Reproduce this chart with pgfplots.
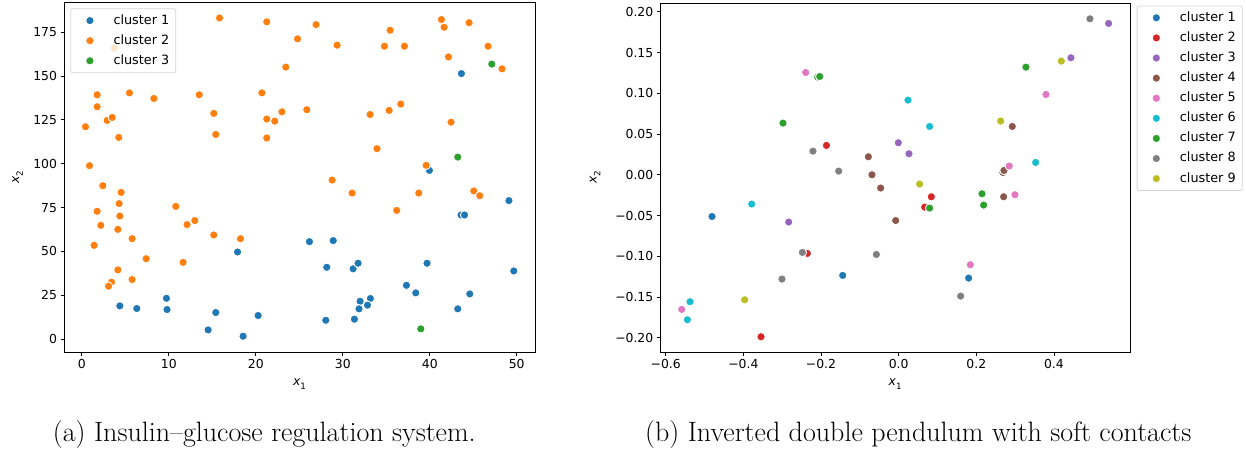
\documentclass[border=0pt]{standalone}
\usepackage{fontspec}
\usepackage{pgfplots}
\pgfplotsset{compat=1.18}
\newfontfamily\dejavu{DejaVu Sans}
\definecolor{tabblue}{HTML}{1F77B4}
\definecolor{taborange}{HTML}{FF7F0E}
\definecolor{tabgreen}{HTML}{2CA02C}
\definecolor{tabred}{HTML}{D62728}
\definecolor{tabpurple}{HTML}{9467BD}
\definecolor{tabbrown}{HTML}{8C564B}
\definecolor{tabpink}{HTML}{E377C2}
\definecolor{tabgray}{HTML}{7F7F7F}
\definecolor{tabolive}{HTML}{BCBD22}
\definecolor{tabcyan}{HTML}{17BECF}
\pgfplotsset{
  base/.style={
    scale only axis,
    axis line style={black, line width=0.8pt},
    tick style={black, line width=0.8pt},
    major tick length=3.5pt,
    tick align=outside,
    xtick pos=left, ytick pos=left,
    ticklabel style={font=\dejavu\fontsize{12.4}{14}\selectfont, text=black},
    /pgf/number format/assume math mode=true,
    legend cell align=left,
    legend style={
      draw=black!20, line width=0.8pt, rounded corners=2pt,
      fill=white, fill opacity=0.8, draw opacity=0.8, text opacity=1,
      font=\dejavu\fontsize{12.8}{15}\selectfont,
      inner xsep=6.5pt, inner ysep=6pt, row sep=8.3pt,
      nodes={inner sep=0pt, text height=9.3pt, text depth=2.5pt},
    },
  },
  cl/.style={only marks, mark=*, mark size=4.2pt,
    mark options={draw=white, line width=0.9pt, fill=#1},
    legend image code/.code={\path[draw=none,fill=none] (0pt,0pt) -- (36.3pt,0pt);
      \draw[##1, fill opacity=1, draw opacity=1, mark options={draw=white, line width=0.9pt, fill=#1, fill opacity=1, draw opacity=1}] plot coordinates {(12.7pt,0pt)};}},
}
\newcommand{\xlab}[1]{{\dejavu\fontsize{12.4}{14}\selectfont\textit{x}\raisebox{-0.3em}{\fontsize{8.7}{10}\selectfont #1}}}
\begin{document}
\begin{tikzpicture}[x=1pt,y=1pt]
\path[use as bounding box] (0,0) rectangle (1246,-450);
\begin{axis}[base,
  at={(64pt,-352pt)}, anchor=south west,
  width=471pt, height=350pt,
  xmin=-2.05, xmax=52.1, ymin=-7.3, ymax=192.2,
  xtick={0,10,20,30,40,50}, ytick={0,25,50,75,100,125,150,175},
  xlabel={\xlab{1}}, ylabel={\xlab{2}},
  xlabel style={at={(axis description cs:0.5,0)}, anchor=center, yshift=-32pt},
  ylabel style={at={(axis description cs:-0.0987,0.5)}, anchor=center},
  legend style={at={(0.0134,0.982)}, anchor=north west},
]
\addplot[cl=tabblue] coordinates {(4.37,19.0) (6.32,17.5) (9.73,23.3) (9.8,16.9) (14.52,5.3) (15.4,15.2) (18.54,1.7) (20.27,13.5) (17.9,49.7) (26.17,55.6) (28.9,56.2) (28.16,41.0) (31.19,40.1) (31.76,43.3) (39.69,43.3) (49.66,38.9) (37.32,30.7) (38.39,26.4) (44.6,25.8) (31.99,21.6) (33.18,23.2) (32.84,19.4) (31.87,17.3) (43.22,17.3) (28.05,10.8) (31.34,11.4) (49.1,79.0) (43.6,70.8) (44.0,70.8) (43.64,151.4) (39.96,96.2)};
\addlegendentry{cluster 1}
\addplot[cl=taborange] coordinates {(0.42,121.1) (1.76,139.3) (1.76,132.5) (2.91,124.7) (3.49,126.4) (3.72,165.9) (4.25,115.0) (5.48,140.4) (8.28,137.2) (13.5,139.3) (15.17,128.7) (15.4,116.7) (15.83,183.1) (20.7,140.4) (21.26,125.5) (21.26,114.7) (22.18,124.3) (23.0,129.6) (21.26,180.9) (23.45,155.1) (24.8,171.2) (25.86,130.8) (26.93,179.3) (0.88,98.9) (2.41,87.5) (4.52,83.7) (1.76,72.9) (4.29,77.3) (4.37,70.2) (2.18,64.9) (4.14,62.6) (1.41,53.5) (5.78,57.3) (7.39,45.9) (4.14,39.5) (3.41,32.5) (3.07,30.2) (5.78,34.0) (10.8,75.7) (12.1,65.3) (12.99,67.6) (11.64,43.8) (15.17,59.4) (18.24,57.3) (35.44,176.1) (29.35,167.6) (34.79,167.0) (37.09,167.0) (41.34,182.2) (41.65,177.8) (44.52,180.4) (46.7,167.0) (42.15,160.9) (48.31,154.1) (33.14,128.1) (35.33,130.4) (36.67,134.0) (42.45,123.7) (33.94,108.6) (39.58,99.1) (28.77,90.7) (31.07,83.3) (38.74,83.3) (45.06,84.5) (45.75,81.8) (36.2,73.4)};
\addlegendentry{cluster 2}
\addplot[cl=tabgreen] coordinates {(47.13,156.8) (43.22,103.8) (38.97,5.9)};
\addlegendentry{cluster 3}
\end{axis}
\begin{axis}[base,
  at={(660.3pt,-352pt)}, anchor=south west,
  width=469.7pt, height=349pt,
  xmin=-0.614, xmax=0.596, ymin=-0.2175, ymax=0.2108,
  xtick={-0.6,-0.4,-0.2,0,0.2,0.4},
  xticklabels={−0.6,−0.4,−0.2,0.0,0.2,0.4},
  ytick={-0.2,-0.15,-0.1,-0.05,0,0.05,0.1,0.15,0.2},
  yticklabels={−0.20,−0.15,−0.10,−0.05,0.00,0.05,0.10,0.15,0.20},
  xlabel={\xlab{1}}, ylabel={\xlab{2}},
  xlabel style={at={(axis description cs:0.5,0)}, anchor=center, yshift=-32pt},
  ylabel style={at={(axis description cs:-0.139,0.5)}, anchor=center},
  legend style={at={(1.0143,0.9928)}, anchor=north west},
]
\addplot[cl=tabblue] coordinates {(-0.4808,-0.0512) (-0.1442,-0.1235) (0.1803,-0.1268)};
\addlegendentry{cluster 1}
\addplot[cl=tabred] coordinates {(-0.186,0.036) (-0.2352,-0.0965) (-0.3546,-0.1988) (0.0842,-0.027) (0.067,-0.0397)};
\addlegendentry{cluster 2}
\addplot[cl=tabpurple] coordinates {(-0.0008,0.0393) (0.0266,0.0258) (0.4437,0.1436) (0.5408,0.1857) (-0.2833,-0.058)};
\addlegendentry{cluster 3}
\addplot[cl=tabbrown] coordinates {(-0.078,0.0221) (-0.0687,0.0) (-0.0464,-0.0163) (-0.0077,-0.0561) (0.2928,0.0593) (0.2686,0.0028) (0.2712,0.0053) (0.2704,-0.027)};
\addlegendentry{cluster 4}
\addplot[cl=tabpink] coordinates {(-0.2395,0.1255) (0.3794,0.0985) (0.285,0.0107) (0.2996,-0.0245) (0.1846,-0.1104) (-0.5589,-0.1652)};
\addlegendentry{cluster 5}
\addplot[cl=tabcyan] coordinates {(0.024,0.0916) (0.0798,0.0593) (0.3528,0.0151) (-0.3786,-0.036) (-0.5375,-0.1558) (-0.5442,-0.1779)};
\addlegendentry{cluster 6}
\addplot[cl=tabgreen] coordinates {(-0.2086,0.1199) (-0.2034,0.1206) (-0.298,0.0634) (0.3279,0.1321) (0.2146,-0.0233) (0.2189,-0.0372) (0.0798,-0.0409)};
\addlegendentry{cluster 7}
\addplot[cl=tabgray] coordinates {(0.4927,0.1914) (-0.2207,0.029) (-0.1545,0.0045) (-0.248,-0.0953) (-0.0574,-0.0978) (-0.3005,-0.128) (0.1597,-0.1489)};
\addlegendentry{cluster 8}
\addplot[cl=tabolive] coordinates {(0.419,0.1395) (0.2627,0.0659) (0.054,-0.0114) (-0.3966,-0.1534)};
\addlegendentry{cluster 9}
\end{axis}
\node[anchor=base west, inner sep=0pt, font=\fontsize{28}{32}\selectfont] at (52.7,-441) {(a) Insulin--glucose regulation system.};
\node[anchor=base west, inner sep=0pt, font=\fontsize{28}{32}\selectfont] at (645,-441) {(b) Inverted double pendulum with soft contacts};
\end{tikzpicture}
\end{document}
